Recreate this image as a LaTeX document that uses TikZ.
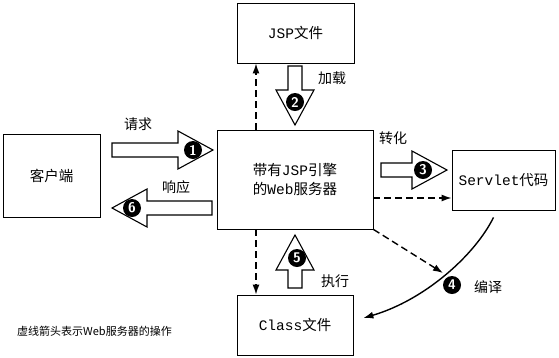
\documentclass[tikz,border=0pt]{standalone}
\usepackage{fontspec}
\setmainfont{Noto Sans CJK SC}
\setmonofont{Liberation Mono}
\usepackage{tikz}
\usetikzlibrary{arrows.meta,calc}

\tikzset{
  fatarrow/.pic={
    \draw[line width=1.1pt,fill=white] (0,-7) -- (#1-35,-7) -- (#1-35,-19) -- (#1,0)
      -- (#1-35,19) -- (#1-35,7) -- (0,7) -- cycle;
  }
}

\begin{document}
\begin{tikzpicture}[x=1pt,y=-1pt,
    box/.style={draw,line width=0.8pt,inner sep=0pt,font=\fontsize{14.5}{19}\selectfont,align=center},
    lbl/.style={font=\fontsize{14}{16}\selectfont,inner sep=0pt},
    numdot/.style={circle,fill=black,text=white,inner sep=0pt,minimum size=18pt,font=\sffamily\bfseries\fontsize{14}{14}\selectfont},
    dasharrow/.style={line width=1.4pt,dash pattern=on 7pt off 4pt,-{Latex[length=10pt,width=7pt]}}]
  \useasboundingbox (0,0) rectangle (559,357);
  % boxes
  \node[box,minimum width=97pt,minimum height=83pt] (client) at (51.5,175.5) {客户端};
  \node[box,minimum width=117pt,minimum height=60pt] (jsp) at (295.5,33) {\texttt{JSP}文件};
  \node[box,minimum width=156pt,minimum height=99pt] (server) at (295,179.5) {带有\texttt{JSP}引擎\\的\texttt{Web}服务器};
  \node[box,minimum width=103pt,minimum height=60pt] (servlet) at (503.5,180) {\texttt{Servlet}代码};
  \node[box,minimum width=116pt,minimum height=60pt] (class) at (295,325) {\texttt{Class}文件};
  % hollow step arrows
  \pic at (112,150) {fatarrow=101};
  \pic[rotate=-90] at (295,66) {fatarrow=59};
  \pic at (381,170) {fatarrow=66};
  \pic[rotate=90] at (295,288) {fatarrow=53};
  \pic[rotate=180] at (212,208) {fatarrow=100};
  \foreach \n/\p in {1/{(193,150)},2/{(295,102)},3/{(423,170)},4/{(452,285)},5/{(297,258)},6/{(132,208)}}
    \node[numdot] (c\n) at \p {\n};
  % labels
  \node[lbl] (l1) at (138,124) {请求};
  \node[lbl] (l2) at (332,78) {加载};
  \node[lbl] (l3) at (393,138) {转化};
  \node[lbl] (l4) at (488,287) {编译};
  \node[lbl] (l5) at (335,281) {执行};
  \node[lbl] (l6) at (176,187) {响应};
  \node[anchor=west,inner sep=0pt,font=\fontsize{11}{12}\selectfont] (note) at (17,331) {虚线箭头表示Web服务器的操作};
  % server operations
  \coordinate (dl) at (256,0);
  \coordinate (dh) at (0,198);
  \coordinate (ctip) at (443,273);
  \draw[dasharrow] (server.north -| dl) -- (jsp.south -| dl);
  \draw[dasharrow] (server.south -| dl) -- (class.north -| dl);
  \draw[dasharrow] (server.east |- dh) -- (servlet.west |- dh);
  \draw[dasharrow] (server.south east) -- (ctip);
  \draw[line width=1.4pt,-{Latex[length=10pt,width=7pt]}] ([shift={(-10pt,-7pt)}]servlet.south)
    .. controls (475,255) and (425,300) .. ([shift={(10pt,7pt)}]class.east);
\end{tikzpicture}
\end{document}
